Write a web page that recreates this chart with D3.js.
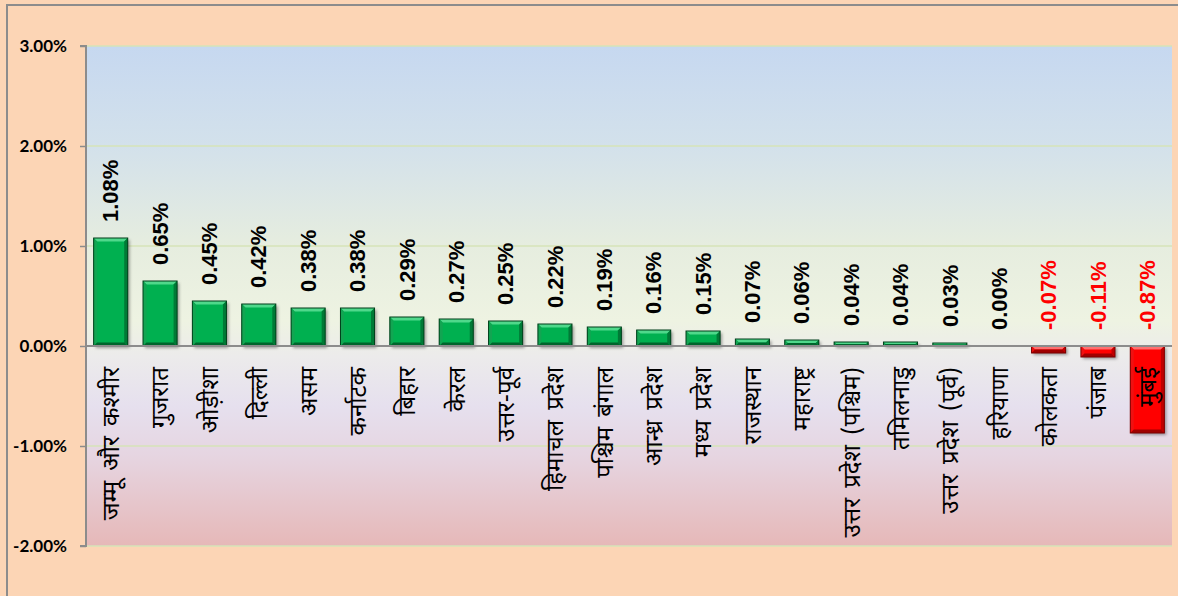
<!DOCTYPE html>
<html>
<head>
<meta charset="utf-8">
<script src="https://cdn.jsdelivr.net/npm/d3@7"></script>
<style>
  html, body { margin: 0; padding: 0; background: #fcd5b5; overflow: hidden; }
  svg { display: block; }
</style>
</head>
<body>
<svg id="chart" width="1178" height="596"></svg>
<script>
const categories = ["जम्मू और कश्मीर","गुजरात","ओड़ीशा","दिल्ली","असम","कर्नाटक","बिहार","केरल","उत्तर-पूर्व","हिमाचल प्रदेश","पश्चिम बंगाल","आन्ध्र प्रदेश","मध्य प्रदेश","राजस्थान","महाराष्ट्र","उत्तर प्रदेश (पश्चिम)","तमिलनाडु","उत्तर प्रदेश (पूर्व)","हरियाणा","कोलकता","पंजाब","मुंबई"];
const values = [1.08,0.65,0.45,0.42,0.38,0.38,0.29,0.27,0.25,0.22,0.19,0.16,0.15,0.07,0.06,0.04,0.04,0.03,0.00,-0.07,-0.11,-0.87];
const yTicks = [-2,-1,0,1,2,3];
const yTickLabels = ["-2.00%","-1.00%","0.00%","1.00%","2.00%","3.00%"];

const W = 1178, H = 596;
const plot = {left: 86, right: 1172, top: 46, bottom: 546};
const svg = d3.select("#chart");
const defs = svg.append("defs");

// background gradient
const bg = defs.append("linearGradient").attr("id","bgGrad").attr("x1",0).attr("y1",0).attr("x2",0).attr("y2",1);
[[0,"#c6d8f0"],[0.2,"#d3e1eb"],[0.4,"#e6eddf"],[0.55,"#eef3e2"],[0.62,"#ecebeb"],[0.72,"#e6e0ee"],[0.82,"#e6d5e1"],[1,"#e6b8b8"]]
  .forEach(([o,c]) => bg.append("stop").attr("offset",o).attr("stop-color",c));

const shadow = defs.append("filter").attr("id","shadow").attr("x","-20%").attr("y","-20%").attr("width","150%").attr("height","150%");
shadow.append("feGaussianBlur").attr("stdDeviation",1.5);

// outer border
svg.append("rect").attr("x",0).attr("y",0).attr("width",W).attr("height",H).attr("fill","#fcd5b5");
svg.append("path").attr("d",`M7,${H} L7,5 L${W},5`).attr("fill","none").attr("stroke","#8c8c8c").attr("stroke-width",2);

const x = d3.scaleBand().domain(categories).range([plot.left, plot.right]).paddingInner(0.31).paddingOuter(0.155);
const y = d3.scaleLinear().domain([-2,3]).range([plot.bottom, plot.top]);

// plot background
svg.append("rect").attr("x",plot.left).attr("y",plot.top).attr("width",plot.right-plot.left).attr("height",plot.bottom-plot.top).attr("fill","url(#bgGrad)");

// gridlines
svg.append("g").selectAll("line").data(yTicks.filter(d => d !== 0)).join("line")
  .attr("x1",plot.left).attr("x2",plot.right)
  .attr("y1",d => y(d)).attr("y2",d => y(d))
  .attr("stroke","#d6e3b8").attr("stroke-width",1.5);

// y axis
const yAxis = d3.axisLeft(y).tickValues(yTicks).tickSize(6).tickFormat(d => yTickLabels[yTicks.indexOf(d)]);
const gy = svg.append("g").attr("transform",`translate(${plot.left},0)`).call(yAxis);
gy.select(".domain").attr("stroke","#8c8c8c").attr("stroke-width",2).attr("d",`M-6,${plot.top}H0V${plot.bottom}H-6`);
gy.selectAll(".tick line").attr("stroke","#8c8c8c").attr("stroke-width",1.5);
gy.selectAll(".tick text").attr("x",-19).attr("fill","#000")
  .style("font-family","Lato, 'Open Sans', sans-serif").style("font-weight","bold").style("font-size","17px");

// bars with bevel
const green = {base:"#00b050", top:"#4fd88b", left:"#12a552", right:"#007a36", bottom:"#00652c", edge:"#003f1a"};
const red = {base:"#ff0000", top:"#ff7070", left:"#f01010", right:"#c00000", bottom:"#a00000", edge:"#7a0000"};

const barsG = svg.append("g");
categories.forEach((c,i) => {
  const v = values[i];
  if (v === 0) return;
  const col = v >= 0 ? green : red;
  const x0 = x(c), w = x.bandwidth();
  const y0 = Math.min(y(v), y(0)), y1 = Math.max(y(v), y(0));
  const h = y1 - y0;
  const b = Math.min(3.5, h/2);
  const g = barsG.append("g");
  g.append("rect").attr("x",x0+2).attr("y",y0+2).attr("width",w).attr("height",h)
    .attr("fill","rgba(0,0,0,0.35)").attr("filter","url(#shadow)");
  g.append("rect").attr("x",x0).attr("y",y0).attr("width",w).attr("height",h).attr("fill",col.base);
  const x1 = x0 + w;
  g.append("polygon").attr("points",`${x0},${y0} ${x1},${y0} ${x1-b},${y0+b} ${x0+b},${y0+b}`).attr("fill",col.top);
  g.append("polygon").attr("points",`${x0},${y0} ${x0+b},${y0+b} ${x0+b},${y1-b} ${x0},${y1}`).attr("fill",col.left);
  g.append("polygon").attr("points",`${x1},${y0} ${x1-b},${y0+b} ${x1-b},${y1-b} ${x1},${y1}`).attr("fill",col.right);
  g.append("polygon").attr("points",`${x0},${y1} ${x0+b},${y1-b} ${x1-b},${y1-b} ${x1},${y1}`).attr("fill",col.bottom);
  g.append("rect").attr("x",x0).attr("y",y0).attr("width",w).attr("height",h)
    .attr("fill","none").attr("stroke",col.edge).attr("stroke-width",1);
});

// zero line
svg.append("line").attr("x1",plot.left).attr("x2",plot.right).attr("y1",y(0)).attr("y2",y(0))
  .attr("stroke","#8c8c8c").attr("stroke-width",2);

// category labels
const xAxis = d3.axisBottom(x).tickSize(0).tickPadding(0);
const gx = svg.append("g").attr("transform",`translate(0,${y(0)})`).call(xAxis);
gx.select(".domain").remove();
gx.selectAll(".tick text")
  .attr("transform","rotate(-90)").attr("x",-21).attr("y",0).attr("dy","0.35em")
  .attr("text-anchor","end").attr("fill","#000")
  .style("font-family","'Noto Sans Devanagari','Noto Sans','Lohit Devanagari','FreeSans',sans-serif")
  .style("font-size","24px").style("word-spacing","4px");

// data labels
svg.append("g").selectAll("text").data(values).join("text")
  .attr("transform",(d,i) => `translate(${x(categories[i]) + x.bandwidth()/2},${y(Math.max(d,0)) - 16}) rotate(-90)`)
  .attr("dy","0.35em").attr("text-anchor","start")
  .attr("fill",d => d < 0 ? "#ff0000" : "#000")
  .style("font-family","'Liberation Sans', Arial, sans-serif").style("font-weight","bold").style("font-size","22px")
  .text(d => d.toFixed(2) + "%");
</script>
</body>
</html>
